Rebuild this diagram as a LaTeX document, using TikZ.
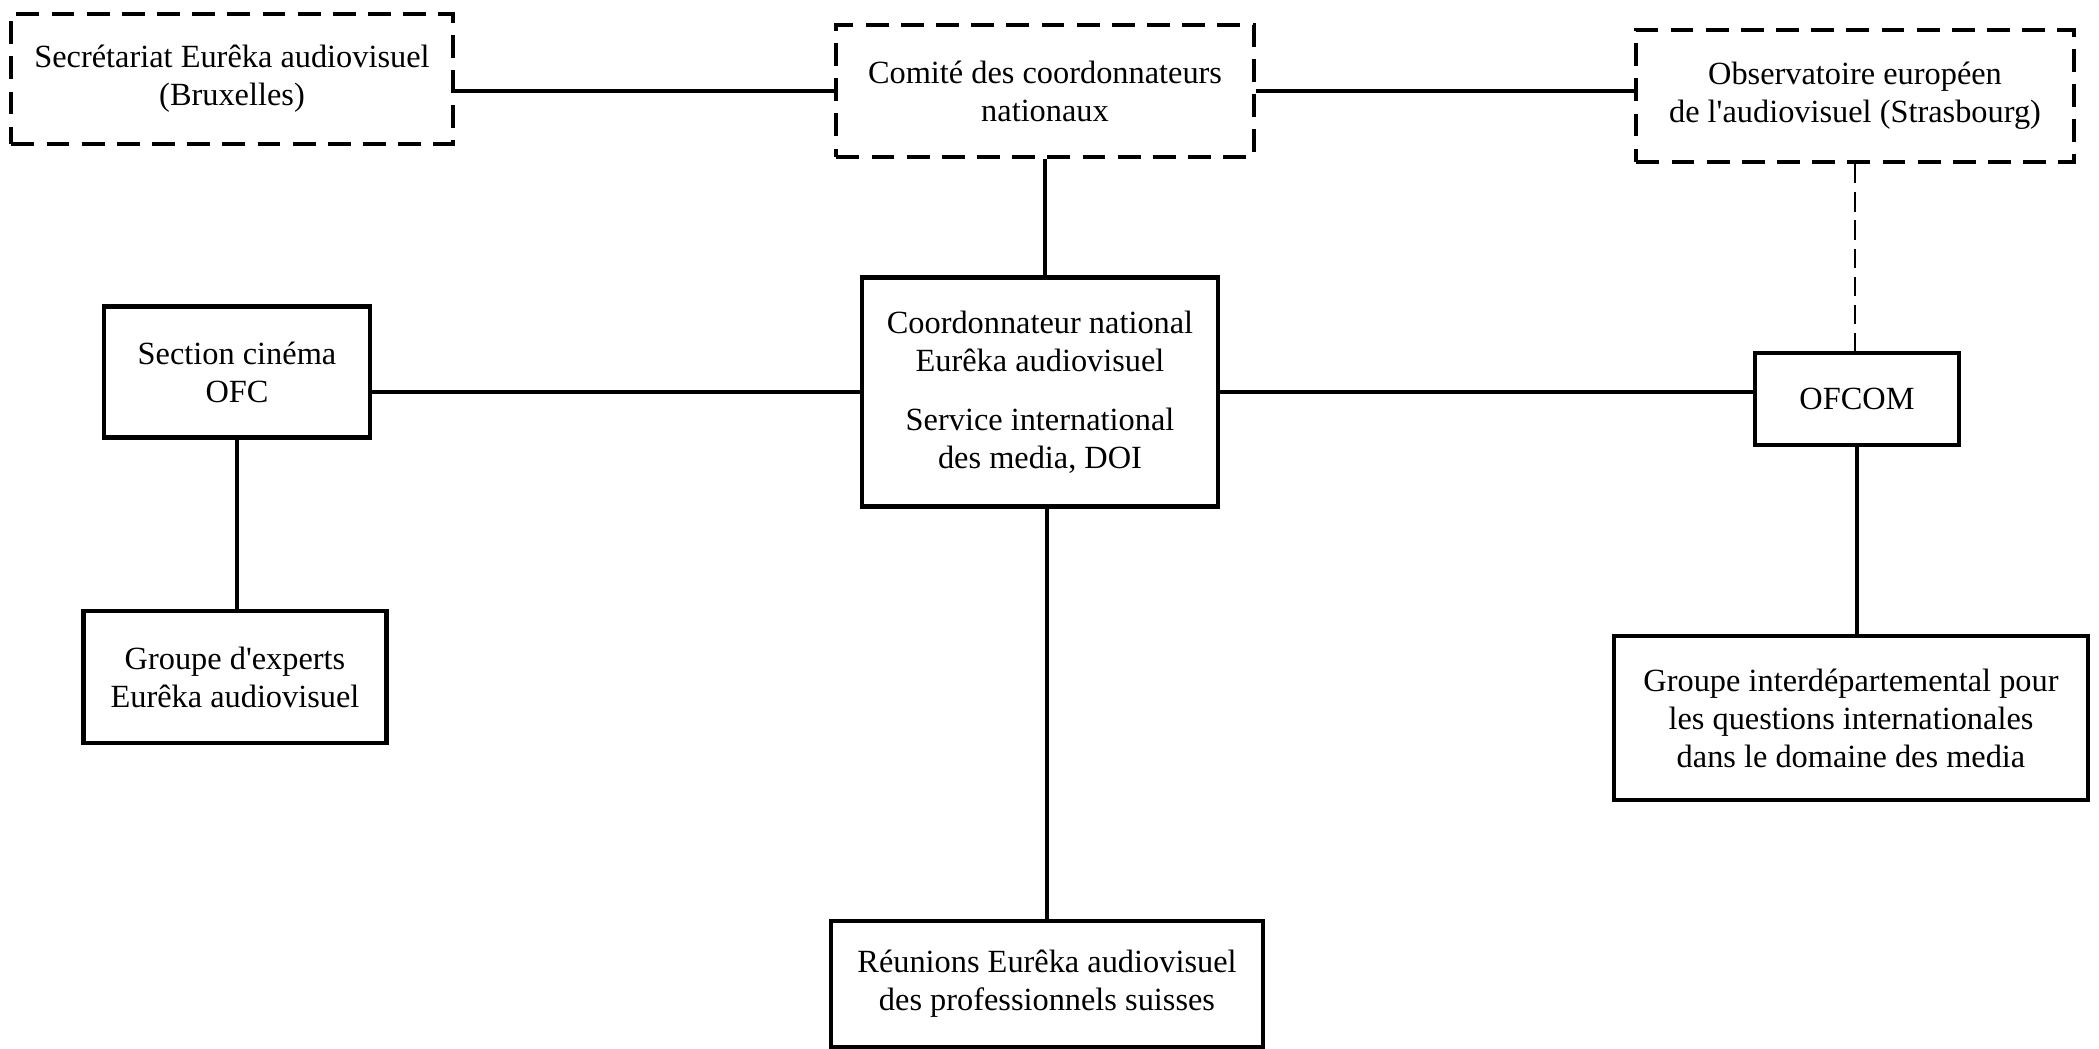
\documentclass[tikz,border=0pt]{standalone}
\usepackage{fontspec}
\setmainfont{Liberation Serif}
\usepackage{tikz}

\begin{document}
\begin{tikzpicture}[x=0.01cm, y=-0.01cm,
  box/.style={draw, line width=1.2pt, align=center, inner sep=0pt,
    font=\fontsize{9.2}{10.8}\selectfont},
  dbox/.style={box, dash pattern=on 6.5pt off 3.5pt},
  link/.style={line width=0.9pt}]
\useasboundingbox (0,0) rectangle (2099,1049);
\node[dbox, minimum width=4.41cm, minimum height=1.30cm] (secr) at (232,79)
  {Secrétariat Eurêka audiovisuel\\(Bruxelles)};
\node[dbox, minimum width=4.17cm, minimum height=1.32cm] (comite) at (1045,91)
  {Comité des coordonnateurs\\nationaux};
\node[dbox, minimum width=4.37cm, minimum height=1.32cm] (obs) at (1855,96)
  {Observatoire européen\\de l\textquotesingle audiovisuel (Strasbourg)};
\node[box, minimum width=3.56cm, minimum height=2.29cm] (coord) at (1040,392)
  {Coordonnateur national\\Eurêka audiovisuel\\[6pt]Service international\\des media, DOI};
\node[box, minimum width=2.66cm, minimum height=1.31cm] (section) at (237,372)
  {Section cinéma\\OFC};
\node[box, minimum width=3.03cm, minimum height=1.32cm] (experts) at (235,677)
  {Groupe d\textquotesingle experts\\Eurêka audiovisuel};
\node[box, minimum width=4.31cm, minimum height=1.26cm] (reunions) at (1047,984)
  {Réunions Eurêka audiovisuel\\des professionnels suisses};
\node[box, minimum width=2.04cm, minimum height=0.92cm] (ofcom) at (1857,399)
  {OFCOM};
\node[box, minimum width=4.74cm, minimum height=1.64cm] (interdep) at (1851,718)
  {Groupe interdépartemental pour\\les questions internationales\\dans le domaine des media};
\draw[link] (comite.west) -- (comite.west -| secr.east);
\draw[link] (comite.east) -- (comite.east -| obs.west);
\draw[link] (comite.south) -- (comite.south |- coord.north);
\draw[link] (coord.west) -- (coord.west -| section.east);
\draw[link] (coord.east) -- (coord.east -| ofcom.west);
\draw[link] (section.south) -- (section.south |- experts.north);
\draw[link] (reunions.north) -- (reunions.north |- coord.south);
\draw[link, line width=0.7pt, dash pattern=on 5.5pt off 2.5pt] (obs.south) -- (obs.south |- ofcom.north);
\draw[link] (ofcom.south) -- (ofcom.south |- interdep.north);
\end{tikzpicture}
\end{document}
